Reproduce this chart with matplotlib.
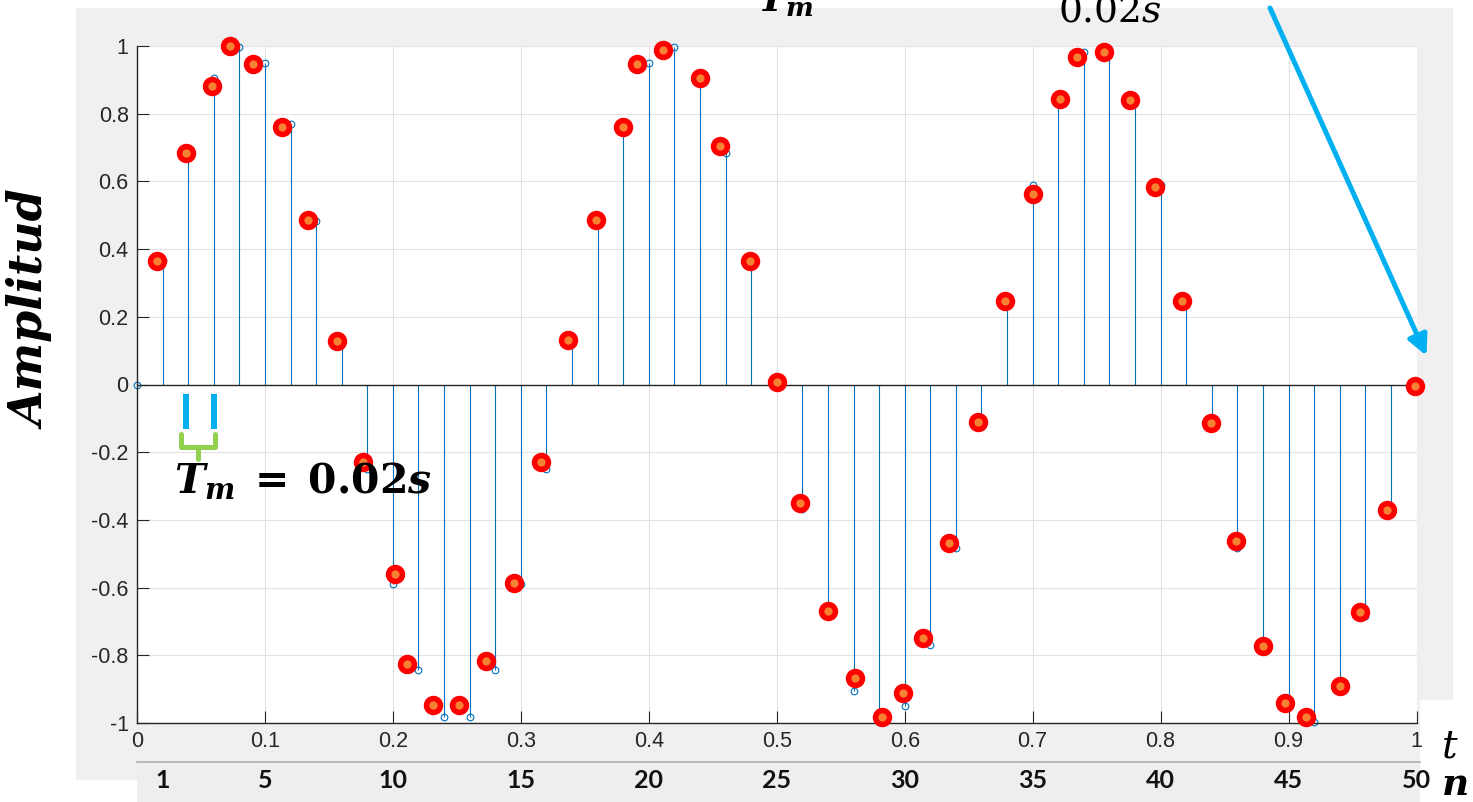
import numpy as np
import matplotlib.pyplot as plt
from matplotlib.patches import Rectangle
from matplotlib.lines import Line2D
from matplotlib.transforms import blended_transform_factory

plt.rcParams['mathtext.fontset'] = 'custom'
plt.rcParams['mathtext.rm'] = 'DejaVu Serif'
plt.rcParams['mathtext.it'] = 'DejaVu Serif:italic'
plt.rcParams['mathtext.bf'] = 'DejaVu Serif:bold'
plt.rcParams['mathtext.bfit'] = 'DejaVu Serif:italic:bold'

# sampled signal (blue stems), t = 0 .. 1 s step 0.02
t = [0.00, 0.02, 0.04, 0.06, 0.08, 0.10, 0.12, 0.14, 0.16, 0.18,
     0.20, 0.22, 0.24, 0.26, 0.28, 0.30, 0.32, 0.34, 0.36, 0.38,
     0.40, 0.42, 0.44, 0.46, 0.48, 0.50, 0.52, 0.54, 0.56, 0.58,
     0.60, 0.62, 0.64, 0.66, 0.68, 0.70, 0.72, 0.74, 0.76, 0.78,
     0.80, 0.82, 0.84, 0.86, 0.88, 0.90, 0.92, 0.94, 0.96, 0.98, 1.00]
amp = [0.0, 0.368, 0.685, 0.905, 0.998, 0.951, 0.771, 0.482, 0.125, -0.249,
       -0.588, -0.844, -0.982, -0.982, -0.844, -0.588, -0.249, 0.125, 0.482, 0.771,
       0.951, 0.998, 0.905, 0.685, 0.368, 0.0, -0.368, -0.685, -0.905, -0.998,
       -0.951, -0.771, -0.482, -0.125, 0.249, 0.588, 0.844, 0.982, 0.982, 0.844,
       0.588, 0.249, -0.125, -0.482, -0.771, -0.951, -0.998, -0.905, -0.685, -0.368, 0.0]

# red samples n = 1 .. 50
red_t = [0.016, 0.038, 0.059, 0.073, 0.091, 0.113, 0.134, 0.156, 0.177, 0.202,
         0.211, 0.231, 0.252, 0.273, 0.295, 0.316, 0.337, 0.359, 0.380, 0.391,
         0.411, 0.440, 0.456, 0.479, 0.500, 0.518, 0.540, 0.561, 0.582, 0.599,
         0.614, 0.635, 0.657, 0.678, 0.700, 0.721, 0.735, 0.756, 0.776, 0.796,
         0.817, 0.839, 0.859, 0.880, 0.897, 0.914, 0.940, 0.956, 0.977, 0.999]
red_y = [0.365, 0.684, 0.882, 1.0, 0.947, 0.761, 0.486, 0.129, -0.229, -0.56,
         -0.826, -0.947, -0.947, -0.817, -0.586, -0.229, 0.131, 0.486, 0.761, 0.947,
         0.988, 0.905, 0.705, 0.365, 0.007, -0.35, -0.669, -0.867, -0.982, -0.911,
         -0.75, -0.468, -0.111, 0.247, 0.563, 0.843, 0.968, 0.982, 0.84, 0.583,
         0.247, -0.114, -0.462, -0.773, -0.941, -0.982, -0.891, -0.672, -0.371, -0.004]

xticks = [0, 0.1, 0.2, 0.3, 0.4, 0.5, 0.6, 0.7, 0.8, 0.9, 1]
xlabels = ['0', '0.1', '0.2', '0.3', '0.4', '0.5', '0.6', '0.7', '0.8', '0.9', '1']
yticks = [-1, -0.8, -0.6, -0.4, -0.2, 0, 0.2, 0.4, 0.6, 0.8, 1]
ylabels = ['-1', '-0.8', '-0.6', '-0.4', '-0.2', '0', '0.2', '0.4', '0.6', '0.8', '1']
n_labels = [1, 5, 10, 15, 20, 25, 30, 35, 40, 45, 50]

W, H = 1473, 802
fig = plt.figure(figsize=(W / 100, H / 100), dpi=100)
fig.patch.set_facecolor('white')

def fx(px):
    return px / W

def fy(py):
    return 1 - py / H

# matlab figure panel + strip with sample numbers (behind the axes)
fig.patches.append(Rectangle((fx(76), fy(780)), fx(1453) - fx(76), fy(8) - fy(780),
                             transform=fig.transFigure, facecolor='#f0f0f0', edgecolor='none', zorder=-10))
fig.patches.append(Rectangle((fx(1420), 0), 1 - fx(1420), fy(700),
                             transform=fig.transFigure, facecolor='white', edgecolor='none', zorder=-9))
fig.patches.append(Rectangle((fx(137), 0), fx(1420) - fx(137), fy(762),
                             transform=fig.transFigure, facecolor='#eeeeee', edgecolor='none', zorder=-8))
fig.add_artist(Line2D([fx(137), fx(1420)], [fy(762), fy(762)], transform=fig.transFigure,
                      color='#b0b0b0', linewidth=1.2, zorder=-7))

ax = fig.add_axes([fx(137), fy(723), fx(1416.5) - fx(137), fy(46) - fy(723)])
ax.set_facecolor('white')

ml, sl, bl = ax.stem(t, amp, linefmt='-', markerfmt='o', basefmt='-')
plt.setp(sl, color='#0072BD', linewidth=0.8)
plt.setp(ml, markerfacecolor='none', markeredgecolor='#0072BD', markersize=4.8,
         markeredgewidth=0.8, clip_on=False)
plt.setp(bl, color='#262626', linewidth=1.0)

ax.plot(red_t, red_y, linestyle='none', marker='o', ms=10, mfc='#f58233', mec='#ff0000',
        mew=4, clip_on=False, zorder=5)

ax.set_xlim(0, 1)
ax.set_ylim(-1, 1)
ax.set_xticks(xticks)
ax.set_xticklabels(xlabels)
ax.set_yticks(yticks)
ax.set_yticklabels(ylabels)
ax.tick_params(direction='in', length=8.6, width=0.8, color='#262626', labelcolor='#262626',
               labelsize=15.5)
ax.tick_params(axis='x', pad=6)
ax.tick_params(axis='y', pad=6)
for lab in ax.get_xticklabels() + ax.get_yticklabels():
    lab.set_family('Liberation Sans')
ax.grid(True, color='#e3e3e3', linewidth=0.8)
ax.set_axisbelow(True)
for s in ['top', 'right']:
    ax.spines[s].set_visible(False)
for s in ['left', 'bottom']:
    ax.spines[s].set_color('#262626')
    ax.spines[s].set_linewidth(1.0)

# sample period marks
ax.plot([0.0385, 0.0385], [-0.028, -0.131], color='#00b0f0', lw=4.3, solid_capstyle='butt', clip_on=False)
ax.plot([0.0600, 0.0600], [-0.028, -0.131], color='#00b0f0', lw=4.3, solid_capstyle='butt', clip_on=False)
ax.plot([0.0344, 0.0344, 0.061, 0.061], [-0.146, -0.185, -0.185, -0.146], color='#92d050', lw=3.6,
        solid_joinstyle='round', solid_capstyle='round')
ax.plot([0.0477, 0.0477], [-0.185, -0.22], color='#92d050', lw=3.6, solid_capstyle='round')

fig.text(fx(174), fy(494), r'$\mathbfit{T_m}\;\mathbf{=}\;\mathbf{0.02}\mathbfit{s}$',
         fontsize=29.5, ha='left', va='baseline')
fig.text(fx(757), fy(11), r'$\mathbfit{T_m}$', fontsize=27, ha='left', va='baseline')
fig.text(fx(1058), fy(22), r'$\mathrm{0.02}\mathit{s}$', fontsize=27, ha='left', va='baseline')

ax.annotate('', xy=(1.0078, 0.085), xycoords='data', xytext=(fx(1270), fy(8)),
            textcoords='figure fraction', annotation_clip=False,
            arrowprops=dict(arrowstyle='-|>', color='#00b0f0', lw=3.6, mutation_scale=30,
                            shrinkA=0, shrinkB=0))

fig.text(fx(33), fy(310), 'Amplitud', rotation=90, ha='center', va='center',
         family='DejaVu Serif', style='italic', weight='bold', fontsize=33)
fig.text(fx(1450), fy(757), 't', ha='center', va='baseline', family='DejaVu Serif',
         style='italic', fontsize=28)
fig.text(fx(1456), fy(795), 'n', ha='center', va='baseline', family='DejaVu Serif',
         style='italic', weight='bold', fontsize=27)

tr = blended_transform_factory(ax.transData, fig.transFigure)
for n in n_labels:
    fig.text(n / 50, fy(781), str(n), transform=tr, ha='center', va='center',
             family='Lato', weight='bold', fontsize=18, color='#111111')

fig.savefig('out.png', dpi=100)
